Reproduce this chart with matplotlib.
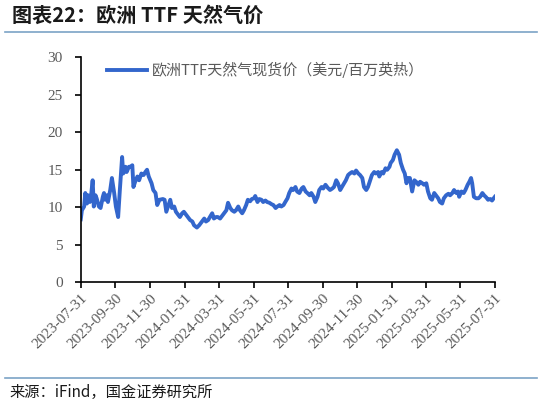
import matplotlib
matplotlib.use("Agg")
import matplotlib.pyplot as plt
import matplotlib.dates as mdates
import numpy as np
import pandas as pd
from matplotlib.lines import Line2D


START_DATE = "2023-07-31"

# days since START_DATE
DAY_OFFSETS = [
    0, 2, 6, 8, 11, 13, 16, 18, 21, 23, 26, 28, 32, 35, 39, 41, 43, 46, 48, 52,
    55, 59, 62, 66, 69, 73, 75, 79, 81, 85, 88, 91, 93, 96, 100, 103, 107, 111, 114, 117,
    120, 125, 128, 132, 135, 139, 145, 148, 151, 154, 158, 161, 165, 168, 172, 175, 179, 182, 186, 189,
    193, 197, 200, 205, 209, 214, 218, 221, 225, 228, 232, 235, 239, 242, 246, 249, 253, 257, 260, 264,
    267, 271, 274, 278, 281, 285, 288, 292, 295, 299, 302, 306, 308, 312, 315, 319, 322, 326, 329, 333,
    337, 340, 344, 347, 351, 354, 358, 361, 365, 368, 372, 375, 379, 382, 386, 390, 393, 397, 400, 404,
    407, 411, 414, 418, 421, 425, 428, 432, 436, 440, 444, 447, 451, 454, 458, 461, 465, 468, 472, 475,
    479, 483, 486, 490, 493, 497, 500, 504, 507, 511, 514, 518, 521, 525, 527, 531, 534, 538, 541, 545,
    547, 551, 554, 558, 562, 565, 569, 572, 575, 578, 581, 585, 589, 592, 596, 599, 603, 606, 610, 613,
    617, 620, 624, 627, 631, 634, 638, 641, 645, 649, 652, 656, 659, 663, 666, 668, 672, 676, 679, 683,
    686, 689, 691, 694, 698, 702, 705, 709, 712, 716, 719, 723, 726, 730, 731,
]

# 欧洲TTF天然气现货价, 美元/百万英热
TTF_PRICE = [
    8.4, 9.6, 10.1, 11.9, 10.5, 11.6, 10.7, 11.4, 13.6, 10.1, 11.6, 11.2, 10.1, 9.9, 11.4, 11.9, 11.0, 11.6, 10.7, 12.3,
    13.9, 11.9, 10.1, 8.7, 12.3, 16.7, 14.5, 15.4, 14.7, 15.4, 15.4, 15.6, 12.7, 13.4, 14.1, 13.6, 14.5, 14.3, 14.7, 15.0,
    14.1, 13.2, 12.3, 11.9, 10.3, 11.0, 11.1, 11.0, 9.4, 10.1, 11.0, 9.9, 10.1, 9.4, 9.0, 8.7, 9.2, 9.4, 9.0, 8.7,
    8.3, 8.1, 7.6, 7.3, 7.6, 8.1, 8.5, 8.1, 8.3, 8.7, 9.2, 8.5, 8.7, 8.7, 8.5, 8.8, 9.2, 9.6, 10.6, 9.9,
    9.6, 9.4, 9.6, 10.1, 9.6, 9.2, 9.6, 10.3, 11.0, 10.8, 11.1, 11.2, 11.5, 10.7, 11.1, 11.0, 10.7, 10.9, 10.7, 10.6,
    10.4, 10.3, 9.9, 10.1, 10.3, 10.1, 10.3, 10.7, 11.2, 11.9, 12.5, 12.3, 12.7, 12.1, 11.9, 12.5, 12.7, 12.1, 11.9, 11.6,
    11.9, 11.4, 10.7, 11.4, 12.3, 12.7, 12.5, 13.0, 12.6, 12.3, 12.5, 12.7, 13.6, 13.2, 12.3, 12.7, 13.2, 13.6, 14.3, 14.5,
    14.7, 14.5, 14.9, 14.5, 14.3, 13.9, 12.7, 12.3, 12.7, 13.6, 14.3, 14.7, 14.5, 14.7, 14.1, 14.7, 14.5, 15.2, 15.0, 15.4,
    15.9, 16.3, 17.0, 17.6, 17.0, 15.9, 15.0, 14.5, 13.2, 13.9, 13.9, 12.1, 13.6, 13.4, 13.0, 13.4, 13.2, 13.0, 13.2, 12.1,
    11.2, 11.0, 11.9, 11.6, 11.2, 10.7, 10.5, 11.2, 11.6, 11.8, 11.6, 11.9, 12.3, 11.9, 12.1, 11.4, 12.1, 11.9, 12.3, 13.0,
    13.4, 13.9, 13.2, 11.4, 11.2, 11.2, 11.4, 11.9, 11.6, 11.3, 11.0, 11.1, 10.9, 11.3, 11.4,
]

TICK_DATES = [
    "2023-07-31", "2023-09-30", "2023-11-30", "2024-01-31", "2024-03-31",
    "2024-05-31", "2024-07-31", "2024-09-30", "2024-11-30", "2025-01-31",
    "2025-03-31", "2025-05-31", "2025-07-31",
]
Y_TICKS = [0, 5, 10, 15, 20, 25, 30]

TITLE = "图表22：欧洲 TTF 天然气价"
SERIES_NAME = "欧洲TTF天然气现货价（美元/百万英热）"
SOURCE = "来源：iFind，国金证券研究所"

LINE_COLOR = "#3366CC"
RULE_COLOR = "#7BA3C6"
TEXT_GREY = "#595959"
CJK = ["Noto Sans CJK SC", "DejaVu Sans"]
SERIF = ["Liberation Serif", "DejaVu Serif"]


dates = pd.Timestamp(START_DATE) + pd.to_timedelta(DAY_OFFSETS, unit="D")
tick_dates = pd.to_datetime(TICK_DATES)

fig = plt.figure(figsize=(5.42, 4.03), dpi=100)
ax = fig.add_axes([0.149, 0.2995, 0.764, 0.5585])

ax.plot(dates, TTF_PRICE, color=LINE_COLOR, lw=2.8, solid_joinstyle="round")

ax.set_xlim(tick_dates[0], tick_dates[-1])
ax.set_ylim(0, 30)
ax.set_yticks(Y_TICKS)
ax.set_xticks(tick_dates)
ax.xaxis.set_major_formatter(mdates.DateFormatter("%Y-%m-%d"))

for side in ("top", "right"):
    ax.spines[side].set_visible(False)
for side in ("left", "bottom"):
    ax.spines[side].set_color("black")
    ax.spines[side].set_linewidth(1.2)

ax.tick_params(axis="y", direction="out", length=4, width=1.2, pad=9,
               labelsize=11, labelcolor=TEXT_GREY)
ax.tick_params(axis="x", direction="out", length=4, width=1.2, pad=3,
               labelsize=11, labelcolor=TEXT_GREY)
for lab in ax.get_yticklabels() + ax.get_xticklabels():
    lab.set_family(SERIF)
for lab in ax.get_xticklabels():
    lab.set_rotation(45)
    lab.set_ha("right")
    lab.set_rotation_mode("anchor")

handle = Line2D([], [], color=LINE_COLOR, lw=2.8)
leg = ax.legend([handle], [SERIES_NAME], loc="upper left",
                bbox_to_anchor=(0.03, 1.04), frameon=False,
                handlelength=2.7, handletextpad=0.3,
                prop={"family": CJK, "size": 10.8})
for t in leg.get_texts():
    t.set_color(TEXT_GREY)

fig.text(0.022, 0.962, TITLE, fontsize=14.5, fontweight="bold",
         family=CJK, va="center", ha="left", color="#1a1a1a")
fig.add_artist(Line2D([0.009, 0.991], [0.921, 0.921], color=RULE_COLOR, lw=1.2))
fig.add_artist(Line2D([0.009, 0.991], [0.061, 0.061], color=RULE_COLOR, lw=1.2))
fig.text(0.018, 0.025, SOURCE, fontsize=11, family=CJK, va="center",
         ha="left", color="#1a1a1a")

fig.savefig("out.png", dpi=100)
plt.close(fig)
